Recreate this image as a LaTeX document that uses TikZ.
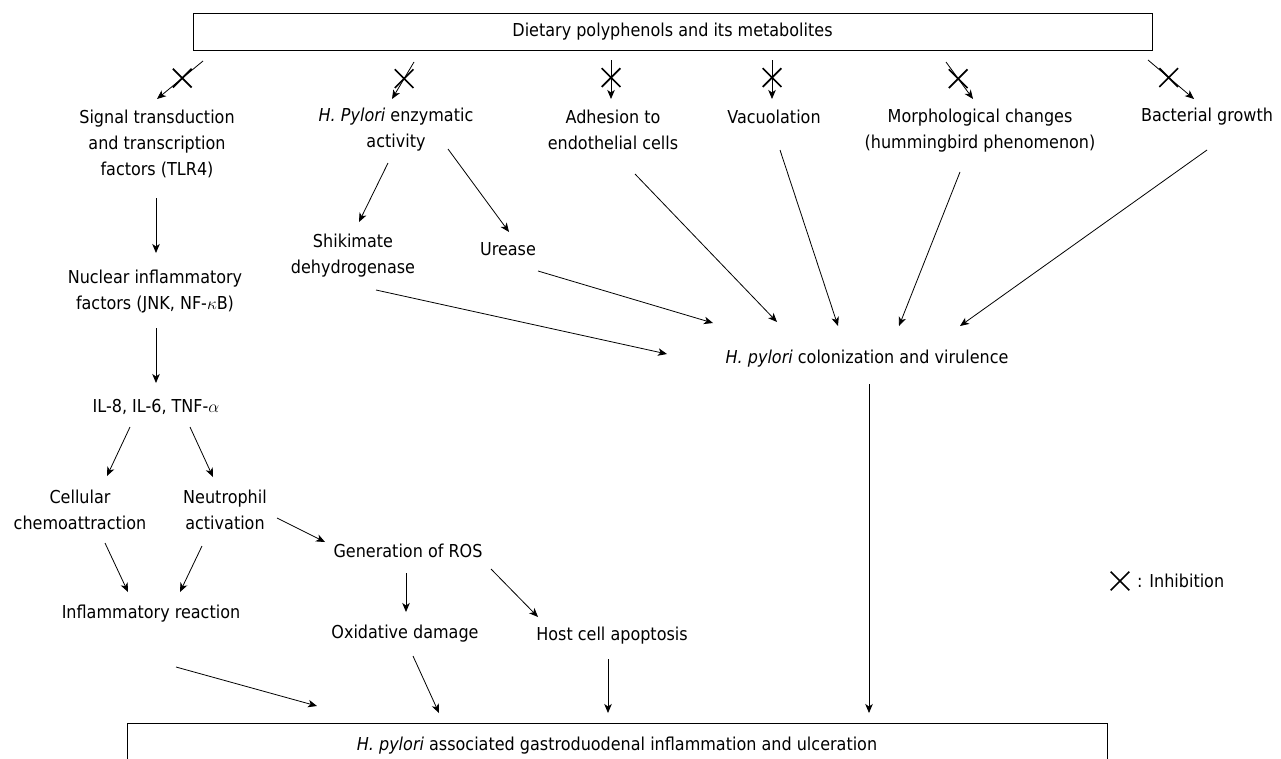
\documentclass[tikz,border=0pt]{standalone}
\usepackage{fontspec}
\setmainfont[FakeStretch=0.9]{DejaVu Sans}
\usetikzlibrary{arrows.meta,shapes.misc}

\begin{document}
\begin{tikzpicture}[x=1pt,y=-1pt,
    every node/.style={font=\fontsize{17.8}{26}\selectfont,inner sep=0pt,align=center},
    box/.style={draw,line width=0.9pt},
    arr/.style={-{Stealth[length=9pt,width=7.5pt,inset=2.5pt]},line width=0.8pt},
    xmark/.style={cross out,draw,line width=1.7pt,minimum size=17pt}]
\clip (0,0) rectangle (1281,758);

% boxes
\node [box,minimum width=959pt,minimum height=37pt] (diet) at (672.5,31.5) {Dietary polyphenols and its metabolites};
\node [box,minimum width=980pt,minimum height=46pt] (ulcer) at (617,746) {\textit{H. pylori} associated gastroduodenal inflammation and ulceration};

% first row
\node (signal)  at ( 157,144) {Signal transduction\\ and transcription\\ factors (TLR4)};
\node (enzyme)  at ( 396,130) {\textit{H. Pylori} enzymatic\\ activity};
\node (adhes)   at ( 613,130) {Adhesion to\\ endothelial cells};
\node (vacuol)  at ( 774,117) {Vacuolation};
\node (morph)   at ( 980,131) {Morphological changes\\ (hummingbird phenomenon)};
\node (growth)  at (1207,117) {Bacterial growth};

\node (shikim)  at ( 353,256) {Shikimate\\ dehydrogenase};
\node (urease)  at ( 508,249) {Urease};
\node (colon)   at ( 867,359) {\textit{H. pylori} colonization and virulence};

% left branch
\node (nuclear) at ( 155,292) {Nuclear inflammatory\\ factors (JNK, NF-$\kappa$B)};
\node (cytok)   at ( 156,407) {IL-8, IL-6, TNF-$\alpha$};
\node (chemo)   at (  80,510) {Cellular\\ chemoattraction};
\node (neutro)  at ( 225,510) {Neutrophil\\ activation};
\node (inflam)  at ( 151,614) {Inflammatory reaction};
\node (ros)     at ( 408,551) {Generation of ROS};
\node (oxid)    at ( 405,634) {Oxidative damage};
\node (apopt)   at ( 612,636) {Host cell apoptosis};

% legend
\node [xmark] (legx) at (1120,581) {};
\node [anchor=west] (legt) at (1137,581) {: Inhibition};

% inhibited arrows
\draw [arr] ([shift={(-469.5,29.5)}]diet.center) -- node[pos=.45,xmark]{} ([shift={(0,-45)}]signal.center);
\draw [arr] ([shift={(-258.5,30.5)}]diet.center) -- node[pos=.45,xmark]{} ([shift={(-4,-31)}]enzyme.center);
\draw [arr] ([shift={(-61.5,28.5)}]diet.center)  -- node[pos=.45,xmark]{} ([shift={(-2,-31)}]adhes.center);
\draw [arr] ([shift={(99.5,28.5)}]diet.center)   -- node[pos=.45,xmark]{} ([shift={(-2,-18)}]vacuol.center);
\draw [arr] ([shift={(273.5,30.5)}]diet.center)  -- node[pos=.45,xmark]{} ([shift={(-7,-32)}]morph.center);
\draw [arr] ([shift={(475.5,28.5)}]diet.center)  -- node[pos=.45,xmark]{} ([shift={(-13,-18)}]growth.center);

% enzymes and colonization
\draw [arr] ([shift={(-8,33)}]enzyme.center) -- ([shift={(6,-34)}]shikim.center);
\draw [arr] ([shift={(52,19)}]enzyme.center) -- ([shift={(1,-17)}]urease.center);
\draw [arr] ([shift={(23,34)}]shikim.center) -- ([shift={(-200,-5)}]colon.center);
\draw [arr] ([shift={(30,22)}]urease.center) -- ([shift={(-154,-36)}]colon.center);
\draw [arr] ([shift={(22,44)}]adhes.center)  -- ([shift={(-90,-37)}]colon.center);
\draw [arr] ([shift={(6,33)}]vacuol.center)  -- ([shift={(-29,-33)}]colon.center);
\draw [arr] ([shift={(-20,41)}]morph.center) -- ([shift={(32,-33)}]colon.center);
\draw [arr] ([shift={(0,33)}]growth.center)  -- ([shift={(93,-33)}]colon.center);
\draw [arr] ([shift={(2,25)}]colon.center)   -- ([shift={(252,-33)}]ulcer.center);

% inflammation chain
\draw [arr] ([shift={(-1,54)}]signal.center)  -- ([shift={(1,-39)}]nuclear.center);
\draw [arr] ([shift={(1,36)}]nuclear.center)  -- ([shift={(0,-24)}]cytok.center);
\draw [arr] ([shift={(-26,20)}]cytok.center)  -- ([shift={(27,-34)}]chemo.center);
\draw [arr] ([shift={(34,20)}]cytok.center)   -- ([shift={(-12,-33)}]neutro.center);
\draw [arr] ([shift={(25,33)}]chemo.center)   -- ([shift={(-23,-22)}]inflam.center);
\draw [arr] ([shift={(-23,36)}]neutro.center) -- ([shift={(29,-22)}]inflam.center);
\draw [arr] ([shift={(52,8)}]neutro.center)   -- ([shift={(-83,-9)}]ros.center);
\draw [arr] ([shift={(-2,22)}]ros.center)     -- ([shift={(1,-22)}]oxid.center);
\draw [arr] ([shift={(83,18)}]ros.center)     -- ([shift={(-74,-19)}]apopt.center);
\draw [arr] ([shift={(25,53)}]inflam.center)  -- ([shift={(-300,-40)}]ulcer.center);
\draw [arr] ([shift={(8,22)}]oxid.center)     -- ([shift={(-178,-33)}]ulcer.center);
\draw [arr] ([shift={(-4,23)}]apopt.center)   -- ([shift={(-9,-33)}]ulcer.center);
\end{tikzpicture}
\end{document}
